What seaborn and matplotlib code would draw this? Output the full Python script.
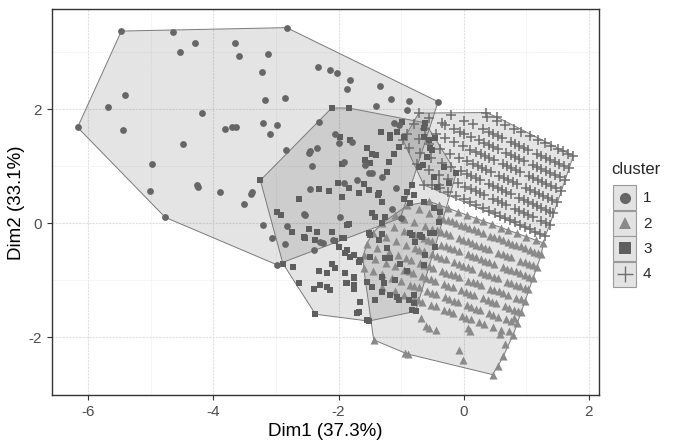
import numpy as np
import pandas as pd
import seaborn as sns
import matplotlib.pyplot as plt
from matplotlib.lines import Line2D
from matplotlib.patches import Rectangle

# --- point coordinates (Dim1, Dim2) ---
cluster1_pts = [
    (-5.47, 3.37), (-4.65, 3.35), (-2.83, 3.43), (-4.29, 3.16), (-4.53, 3.01), (-3.66, 3.16),
    (-3.59, 2.93), (-3.13, 2.97), (-3.22, 2.66), (-2.33, 2.74), (-2.14, 2.69), (-2.03, 2.64),
    (-1.82, 2.51), (-1.87, 2.35), (-1.34, 2.40), (-3.17, 2.16), (-2.86, 2.20), (-1.16, 2.17),
    (-0.87, 2.14), (-0.41, 2.13), (-1.41, 2.05), (-0.91, 1.99), (-5.68, 2.03), (-5.41, 2.24),
    (-4.18, 1.94), (-5.44, 1.63), (-6.17, 1.68), (-3.21, 1.75), (-2.99, 1.72), (-3.10, 1.56),
    (-3.81, 1.65), (-3.70, 1.68), (-3.64, 1.69), (-4.48, 1.39), (-4.98, 1.04), (-4.26, 0.66),
    (-4.24, 0.64), (-3.89, 0.54), (-3.38, 0.54), (-3.40, 0.51), (-3.51, 0.34), (-5.02, 0.57),
    (-4.77, 0.10), (-3.21, -0.04), (-3.06, -0.26), (-2.99, -0.73),
    (-2.32, 1.78), (-2.05, 1.57), (-1.99, 1.40), (-2.84, 1.28), (-2.47, 1.23), (-2.45, 1.26),
    (-2.34, 1.31), (-2.43, 1.00), (-1.92, 1.08), (-1.78, 1.43), (-1.58, 1.02), (-1.51, 0.87),
    (-1.46, 0.88), (-1.31, 0.81), (-1.91, 0.71), (-1.70, 0.75), (-2.45, 0.59), (-2.55, 0.16),
    (-1.98, 0.11), (-2.83, -0.05), (-2.29, -0.33), (-2.86, -0.37), (-2.40, -0.47), (-2.25, -0.35),
    (-2.09, -0.30), (-1.12, 1.76), (-1.04, 1.72), (-1.08, 0.62), (-1.15, 0.24), (-1.01, 0.09),
    (-2.53, 0.14),
]

cluster2_pts = [
    # top row
    (-0.55, 0.38), (-0.40, 0.32), (-0.25, 0.26), (-0.10, 0.20), (0.05, 0.14), (0.20, 0.08),
    (0.30, 0.04), (0.45, -0.02), (0.60, -0.08), (0.70, -0.12), (0.85, -0.18), (1.00, -0.24),
    (1.15, -0.30), (1.27, -0.35),
    # second row
    (-0.90, 0.31), (-0.72, 0.24), (-0.55, 0.17), (-0.40, 0.11), (-0.33, 0.08), (-0.26, 0.05),
    (-0.19, 0.03), (-0.12, 0.00), (-0.05, -0.03), (0.02, -0.06), (0.09, -0.09), (0.16, -0.11),
    (0.23, -0.14), (0.30, -0.17), (0.42, -0.22), (0.49, -0.25), (0.56, -0.27), (0.63, -0.30),
    (0.70, -0.33), (0.77, -0.36), (0.84, -0.39), (0.91, -0.41), (0.98, -0.44), (1.05, -0.47),
    (1.12, -0.50), (1.19, -0.53), (1.24, -0.55),
    # third row
    (-1.10, 0.14), (-0.95, 0.08), (-0.80, 0.02), (-0.62, -0.05), (-0.50, -0.10), (-0.43, -0.13),
    (-0.36, -0.16), (-0.29, -0.18), (-0.22, -0.21), (-0.08, -0.27), (-0.01, -0.30), (0.06, -0.32),
    (0.13, -0.35), (0.20, -0.38), (0.27, -0.41), (0.34, -0.44), (0.41, -0.46), (0.55, -0.52),
    (0.62, -0.55), (0.69, -0.58), (0.76, -0.60), (0.90, -0.66), (0.97, -0.69), (1.04, -0.72),
    (1.11, -0.74), (1.17, -0.77),
    # fourth row
    (-1.30, 0.00), (-1.12, -0.07), (-0.95, -0.14), (-0.78, -0.21), (-0.64, -0.26), (-0.57, -0.29),
    (-0.50, -0.32), (-0.36, -0.38), (-0.29, -0.40), (-0.22, -0.43), (-0.15, -0.46), (-0.08, -0.49),
    (0.06, -0.54), (0.13, -0.57), (0.20, -0.60), (0.27, -0.63), (0.34, -0.66), (0.41, -0.68),
    (0.48, -0.71), (0.62, -0.77), (0.69, -0.80), (0.76, -0.82), (0.83, -0.85), (0.90, -0.88),
    (0.97, -0.91), (1.04, -0.94), (1.10, -0.96),
    # fifth row
    (-1.45, -0.17), (-1.25, -0.25), (-1.08, -0.32), (-0.92, -0.38), (-0.78, -0.44), (-0.71, -0.47),
    (-0.64, -0.49), (-0.50, -0.55), (-0.43, -0.58), (-0.36, -0.61), (-0.29, -0.63), (-0.15, -0.69),
    (-0.08, -0.72), (-0.01, -0.75), (0.06, -0.77), (0.13, -0.80), (0.27, -0.86), (0.34, -0.89),
    (0.41, -0.91), (0.48, -0.94), (0.55, -0.97), (0.69, -1.03), (0.76, -1.05), (0.83, -1.08),
    (0.90, -1.11), (0.97, -1.14), (1.03, -1.16),
    # sixth row
    (-1.55, -0.36), (-1.38, -0.43), (-1.20, -0.50), (-1.05, -0.56), (-0.92, -0.61), (-0.85, -0.64),
    (-0.70, -0.70), (-0.63, -0.73), (-0.56, -0.76), (-0.49, -0.78), (-0.35, -0.84), (-0.28, -0.87),
    (-0.21, -0.90), (-0.14, -0.92), (-0.07, -0.95), (0.07, -1.01), (0.14, -1.04), (0.21, -1.06),
    (0.28, -1.09), (0.42, -1.15), (0.49, -1.18), (0.56, -1.20), (0.63, -1.23), (0.70, -1.26),
    (0.84, -1.32), (0.91, -1.34), (0.97, -1.37),
    # seventh row
    (-1.60, -0.56), (-1.42, -0.63), (-1.25, -0.70), (-1.10, -0.76), (-0.95, -0.82), (-0.88, -0.85),
    (-0.81, -0.88), (-0.67, -0.93), (-0.60, -0.96), (-0.53, -0.99), (-0.46, -1.02), (-0.32, -1.07),
    (-0.25, -1.10), (-0.18, -1.13), (-0.04, -1.18), (0.03, -1.21), (0.10, -1.24), (0.17, -1.27),
    (0.31, -1.32), (0.38, -1.35), (0.45, -1.38), (0.52, -1.41), (0.66, -1.46), (0.73, -1.49),
    (0.80, -1.52), (0.86, -1.54), (0.91, -1.56),
    # eighth row
    (-1.60, -0.78), (-1.45, -0.84), (-1.30, -0.90), (-1.15, -0.96), (-1.00, -1.02), (-0.86, -1.08),
    (-0.79, -1.10), (-0.72, -1.13), (-0.58, -1.19), (-0.51, -1.22), (-0.44, -1.24), (-0.30, -1.30),
    (-0.23, -1.33), (-0.16, -1.36), (-0.09, -1.38), (0.05, -1.44), (0.12, -1.47), (0.19, -1.50),
    (0.26, -1.52), (0.40, -1.58), (0.47, -1.61), (0.54, -1.64), (0.68, -1.69), (0.75, -1.72),
    (0.85, -1.76),
    # ninth row
    (-1.30, -1.12), (-1.10, -1.20), (-0.95, -1.26), (-0.80, -1.32), (-0.73, -1.35), (-0.66, -1.38),
    (-0.52, -1.43), (-0.45, -1.46), (-0.31, -1.52), (-0.24, -1.54), (-0.17, -1.57), (-0.03, -1.63),
    (0.04, -1.66), (0.11, -1.68), (0.25, -1.74), (0.32, -1.77), (0.46, -1.82), (0.60, -1.88),
    (0.79, -1.96),
    # sparse lower part
    (-1.44, -2.05), (-0.94, -2.28), (-0.89, -2.30), (-0.69, -1.67), (-0.60, -1.80), (-0.55, -1.84),
    (-0.45, -1.87), (-0.07, -2.22), (-0.02, -2.40), (0.07, -1.84), (0.10, -1.90), (0.46, -2.66),
    (0.55, -2.50), (0.63, -2.34), (0.66, -2.13), (0.73, -1.90), (0.80, -1.67), (0.58, -1.94),
]

cluster3_pts = [
    (-2.11, 2.02), (-1.84, 2.02), (-1.32, 1.60), (-1.97, 1.51), (-1.81, 1.46), (-1.55, 1.31),
    (-1.47, 1.22), (-1.40, 1.19), (-1.58, 1.11), (-1.50, 1.05), (-1.95, 1.03), (-3.25, 0.75),
    (-2.01, 0.71), (-1.59, 0.68), (-2.32, 0.59), (-2.16, 0.56), (-1.94, 0.46), (-1.83, 0.61),
    (-1.67, 0.52), (-1.52, 0.58), (-1.37, 0.50), (-1.31, 0.37), (-2.64, 0.42), (-2.99, 0.19),
    (-2.92, 0.15), (-1.47, 0.17), (-1.42, 0.11), (-1.83, -0.02), (-2.47, -0.11), (-2.75, -0.15),
    (-2.35, -0.15), (-2.10, -0.15), (-2.53, -0.26), (-2.37, -0.30), (-2.05, -0.32), (-1.94, -0.26),
    (-2.56, -0.24), (-2.89, -0.71), (-2.73, -0.77), (-2.64, -1.05), (-2.40, -1.16), (-2.32, -0.85),
    (-2.19, -0.88), (-2.29, -1.09), (-2.18, -1.12), (-2.13, -1.18), (-2.05, -0.79), (-1.89, -0.88),
    (-1.87, -1.05), (-1.76, -0.97), (-1.76, -1.16), (-2.37, -1.60), (-1.71, -1.57), (-1.55, -1.70),
    (-1.42, -1.35), (-2.11, -0.71), (-2.00, -0.42), (-1.89, -0.53), (-1.81, -0.59), (-1.68, -0.68),
    (-1.50, -0.59), (-1.36, -0.30), (-1.31, -0.19), (-1.23, -0.44), (-0.86, -0.18), (-0.78, -0.33),
    (-0.67, -0.24), (-0.48, -0.18), (-0.46, -0.42), (-1.10, -1.00), (-1.28, -1.06), (-1.07, -1.29),
    (-0.91, -0.85), (-0.88, -1.35), (-0.80, -1.41), (-1.18, 1.49), (-1.12, 1.22), (-1.20, 1.08),
    (-1.23, 0.90), (-1.36, 0.52), (-0.91, 0.55), (-0.95, 0.43), (-0.86, 0.35), (-0.64, 1.51),
    (-0.59, 1.16), (-0.65, 1.02), (-0.51, 1.28), (-0.46, 1.49), (-0.48, 0.81), (-0.43, 0.64),
    (-1.07, 1.60), (-1.04, 1.34), (-1.31, 0.00), (-1.50, -0.21), (-1.26, 0.11), (-1.18, 1.54),
    (-0.96, 1.51), (-0.64, 1.66), (-0.56, 1.46), (-0.54, 1.31), (-0.72, 0.99), (-0.32, 0.99),
    (-0.24, 0.70), (-0.83, 0.67), (-0.80, 0.49), (-0.64, 0.37), (-0.48, 0.26), (-0.38, 0.20),
    (-1.87, -0.04), (-1.92, -0.27), (-1.52, -0.18), (-1.87, -0.47), (-1.76, -0.56), (-1.66, -0.65),
    (-1.76, -0.94), (-1.88, -1.06), (-1.76, -1.09), (-1.66, -1.38), (-1.68, -1.56), (-1.52, -1.72),
    (-1.55, -1.03), (-1.47, -1.12), (-1.31, -1.21), (-1.18, -1.26), (-1.26, -0.62), (-1.18, -0.62),
    (-1.02, -0.71), (-1.31, -0.94), (-1.04, -1.35), (-0.83, -1.53), (-0.80, -1.26), (-0.64, -0.74),
    (-0.62, -0.56), (-0.83, -0.21), (-0.70, -0.21), (-0.54, -0.18), (-0.40, 0.02), (-0.99, 1.78),
    (-0.62, 1.76), (-0.12, 0.88), (-0.77, -1.55),
]

cluster4_pts = [
    # bottom row
    (-0.50, 0.67), (-0.38, 0.61), (-0.25, 0.55), (-0.12, 0.48), (0.00, 0.42), (0.10, 0.37),
    (0.20, 0.32), (0.30, 0.27), (0.40, 0.22), (0.50, 0.17), (0.58, 0.13), (0.66, 0.09),
    (0.74, 0.05), (0.82, 0.01), (0.90, -0.03), (0.98, -0.07), (1.06, -0.11), (1.14, -0.15),
    (1.22, -0.19), (1.30, -0.23),
    # row 2
    (-0.75, 1.03), (-0.55, 0.93), (-0.40, 0.85), (-0.25, 0.78), (-0.10, 0.70), (0.02, 0.64),
    (0.12, 0.59), (0.19, 0.56), (0.26, 0.52), (0.33, 0.49), (0.47, 0.42), (0.54, 0.38),
    (0.61, 0.35), (0.68, 0.31), (0.82, 0.24), (0.89, 0.21), (0.96, 0.17), (1.03, 0.14),
    (1.10, 0.10), (1.24, 0.03), (1.31, 0.00), (1.37, -0.04),
    # row 3
    (-0.88, 1.32), (-0.70, 1.23), (-0.52, 1.14), (-0.35, 1.06), (-0.20, 0.98), (-0.05, 0.91),
    (0.05, 0.86), (0.12, 0.82), (0.19, 0.79), (0.26, 0.75), (0.40, 0.68), (0.47, 0.65),
    (0.54, 0.61), (0.61, 0.58), (0.68, 0.54), (0.75, 0.51), (0.89, 0.44), (0.96, 0.40),
    (1.03, 0.37), (1.10, 0.33), (1.17, 0.30), (1.24, 0.26), (1.31, 0.23), (1.37, 0.20),
    (1.43, 0.17),
    # row 4
    (-0.90, 1.56), (-0.72, 1.47), (-0.55, 1.39), (-0.38, 1.30), (-0.22, 1.22), (-0.08, 1.15),
    (0.05, 1.09), (0.15, 1.04), (0.22, 1.00), (0.29, 0.97), (0.36, 0.93), (0.43, 0.90),
    (0.57, 0.83), (0.64, 0.79), (0.71, 0.76), (0.78, 0.72), (0.85, 0.69), (0.99, 0.62),
    (1.06, 0.58), (1.13, 0.55), (1.20, 0.51), (1.27, 0.48), (1.34, 0.44), (1.41, 0.41),
    (1.49, 0.37),
    # row 5
    (-0.80, 1.74), (-0.62, 1.65), (-0.45, 1.57), (-0.30, 1.49), (-0.15, 1.42), (-0.02, 1.35),
    (0.10, 1.29), (0.20, 1.24), (0.27, 1.21), (0.34, 1.17), (0.41, 1.14), (0.48, 1.10),
    (0.62, 1.03), (0.69, 1.00), (0.76, 0.96), (0.83, 0.93), (0.90, 0.89), (1.04, 0.82),
    (1.11, 0.79), (1.18, 0.75), (1.25, 0.72), (1.32, 0.68), (1.39, 0.65), (1.47, 0.61),
    (1.55, 0.57),
    # row 6
    (-0.72, 1.93), (-0.55, 1.85), (-0.35, 1.75), (-0.15, 1.65), (0.00, 1.57), (0.12, 1.51),
    (0.24, 1.45), (0.33, 1.41), (0.40, 1.37), (0.47, 1.34), (0.54, 1.30), (0.68, 1.23),
    (0.75, 1.20), (0.82, 1.16), (0.89, 1.13), (0.96, 1.09), (1.10, 1.02), (1.17, 0.99),
    (1.24, 0.95), (1.31, 0.92), (1.38, 0.88), (1.45, 0.85), (1.53, 0.81), (1.62, 0.76),
    # row 7
    (-0.20, 1.90), (0.00, 1.80), (0.15, 1.73), (0.30, 1.65), (0.40, 1.60), (0.47, 1.57),
    (0.54, 1.53), (0.61, 1.50), (0.75, 1.43), (0.82, 1.39), (0.89, 1.36), (0.96, 1.32),
    (1.03, 1.29), (1.17, 1.22), (1.24, 1.18), (1.31, 1.15), (1.38, 1.11), (1.45, 1.08),
    (1.52, 1.04), (1.60, 1.00), (1.68, 0.96),
    # top row
    (0.37, 1.87), (0.53, 1.79), (0.66, 1.72), (0.80, 1.65), (0.92, 1.59), (1.05, 1.53),
    (1.19, 1.46), (1.30, 1.40), (1.40, 1.35), (1.50, 1.30), (1.58, 1.26), (1.66, 1.22),
    (1.75, 1.18),
    # loose ones
    (0.35, 1.94), (0.53, 1.86), (-0.97, 1.45), (-0.30, 1.72), (-0.06, 1.60), (-0.64, 0.67),
    (-0.40, 0.67),
]

clusters = ['1', '2', '3', '4']
markers = {'1': 'o', '2': '^', '3': 's', '4': '+'}
sizes = {'1': 24, '2': 34, '3': 20, '4': 60}
point_colors = {'1': '#666666', '2': '#8a8a8a', '3': '#5e5e5e', '4': '#6e6e6e'}
x_ticks = [-6, -4, -2, 0, 2]
y_ticks = [-2, 0, 2]

frames = []
for name, pts in zip(clusters, [cluster1_pts, cluster2_pts, cluster3_pts, cluster4_pts]):
    arr = np.array(pts)
    frames.append(pd.DataFrame({'Dim1': arr[:, 0], 'Dim2': arr[:, 1], 'cluster': name}))
df = pd.concat(frames, ignore_index=True)


def convex_hull(points):
    # monotone chain
    pts = sorted(set(map(tuple, points)))
    def cross(o, a, b):
        return (a[0] - o[0]) * (b[1] - o[1]) - (a[1] - o[1]) * (b[0] - o[0])
    lower, upper = [], []
    for p in pts:
        while len(lower) >= 2 and cross(lower[-2], lower[-1], p) <= 0:
            lower.pop()
        lower.append(p)
    for p in reversed(pts):
        while len(upper) >= 2 and cross(upper[-2], upper[-1], p) <= 0:
            upper.pop()
        upper.append(p)
    return np.array(lower[:-1] + upper[:-1])


sns.set_style('white')
plt.rcParams['axes.unicode_minus'] = False
plt.rcParams['font.family'] = ['Liberation Sans', 'DejaVu Sans']

fig = plt.figure(figsize=(6.83, 4.48), dpi=100)
ax = fig.add_axes([0.076, 0.118, 0.801, 0.861])

# hull polygons first
for name in clusters:
    sub = df[df['cluster'] == name]
    h = convex_hull(sub[['Dim1', 'Dim2']].values)
    ax.fill(h[:, 0], h[:, 1], facecolor='#333333', alpha=0.13, edgecolor='none', zorder=1)
    hc = np.vstack([h, h[:1]])
    ax.plot(hc[:, 0], hc[:, 1], color='#7a7a7a', lw=0.7, zorder=2)

for name in ['2', '4', '3', '1']:
    sub = df[df['cluster'] == name]
    if markers[name] == '+':
        sns.scatterplot(data=sub, x='Dim1', y='Dim2', marker='+', s=sizes[name],
                        color=point_colors[name], linewidth=1.1, ax=ax, legend=False, zorder=3)
    else:
        sns.scatterplot(data=sub, x='Dim1', y='Dim2', marker=markers[name], s=sizes[name],
                        color=point_colors[name], linewidth=0, ax=ax, legend=False, zorder=3)

ax.set_xlim(-6.58, 2.16)
ax.set_ylim(-3.02, 3.75)
ax.set_xticks(x_ticks)
ax.set_yticks(y_ticks)
ax.set_xticks([-5, -3, -1, 1], minor=True)
ax.set_yticks([-1, 1, 3], minor=True)
ax.grid(True, which='major', color='#e0e0e0', lw=0.8, ls=(0, (2, 1)))
ax.grid(True, which='minor', color='#ececec', lw=0.5, ls=(0, (2, 1)))
ax.set_axisbelow(True)
for sp in ax.spines.values():
    sp.set_color('#333333')
    sp.set_linewidth(1.0)
ax.tick_params(which='major', direction='out', length=3.5, width=0.8, color='#333333',
               labelcolor='#4d4d4d', labelsize=11, bottom=True, left=True)
ax.tick_params(which='minor', length=0)
ax.set_xlabel('Dim1 (37.3%)', fontsize=13.5, color='black', labelpad=3)
ax.set_ylabel('Dim2 (33.1%)', fontsize=13.5, color='black', labelpad=3)

# legend drawn by hand to get ggplot-style key boxes
W, H = 683.0, 448.0
fig.text(611 / W, 1 - 170 / H, 'cluster', fontsize=12, ha='left', va='center')
key_centers = [198, 223.5, 248.5, 274]
key_ms = {'1': 8, '2': 9, '3': 8, '4': 12}
for name, cyp in zip(clusters, key_centers):
    fig.add_artist(Rectangle((613 / W, 1 - (cyp + 12.5) / H), 23 / W, 25 / H,
                             transform=fig.transFigure, facecolor='#e3e3e3',
                             edgecolor='#9a9a9a', lw=0.8))
    cy = 1 - cyp / H
    fig.add_artist(Line2D([624.5 / W], [cy], transform=fig.transFigure, marker=markers[name],
                          ms=key_ms[name], color=point_colors[name],
                          markeredgewidth=1.0 if name == '4' else 0, linestyle='none'))
    fig.text(643 / W, cy, name, fontsize=11, ha='left', va='center')

fig.savefig('out.png', dpi=100)
